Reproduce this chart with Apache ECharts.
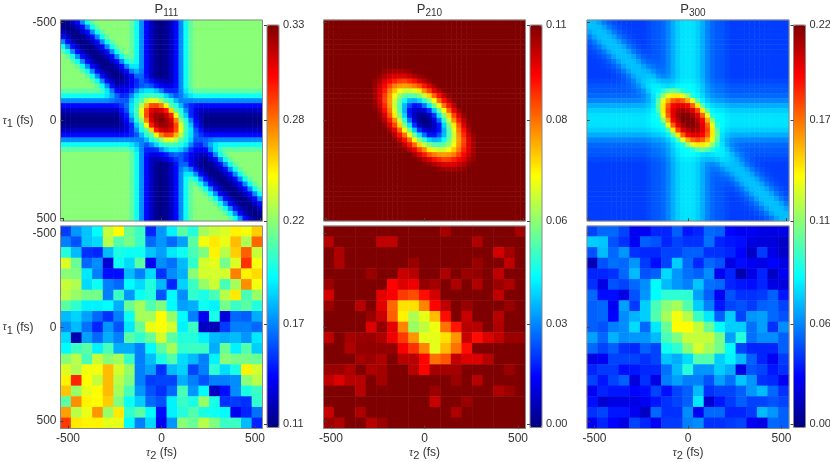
<!DOCTYPE html>
<html>
<head>
<meta charset="UTF-8">
<title></title>
<style>
	html, body { margin: 0; padding: 0; background: #fff; }
	#main { width: 830px; height: 462px; }
</style>
</head>
<body>
<div id="main"></div>
<script src="https://cdn.jsdelivr.net/npm/echarts@6/dist/echarts.min.js"></script>
<script>
// all populations are in units of 0.001
var p111Top = [
[111,114,124,139,168,195,213,222,222,222,222,222,222,222,213,195,168,139,124,114,111,114,124,139,168,195,213,222,222,222,222,222,222,222,222,222,222,222,222,222,222],
[114,111,114,124,139,168,195,213,222,222,222,222,222,222,213,195,168,139,124,114,111,114,124,139,168,195,213,222,222,222,222,222,222,222,222,222,222,222,222,222,222],
[124,114,111,114,124,139,168,195,213,222,222,222,222,222,213,195,168,139,124,114,111,114,124,139,168,195,213,222,222,222,222,222,222,222,222,222,222,222,222,222,222],
[139,124,114,111,114,124,139,168,195,213,222,222,222,222,213,195,168,139,124,114,111,114,124,139,168,195,213,222,222,222,222,222,222,222,222,222,222,222,222,222,222],
[168,139,124,114,111,114,124,139,168,195,213,222,222,222,213,195,168,139,124,114,111,114,124,139,168,195,213,222,222,222,222,222,222,222,222,222,222,222,222,222,222],
[195,168,139,124,114,111,114,124,139,168,195,213,222,222,213,195,168,139,124,114,111,114,124,139,168,195,213,222,222,222,222,222,222,222,222,222,222,222,222,222,222],
[213,195,168,139,124,114,111,114,124,139,168,195,213,222,213,195,168,139,124,114,111,114,124,139,168,195,213,222,222,222,222,222,222,222,222,222,222,222,222,222,222],
[222,213,195,168,139,124,114,111,114,124,139,168,195,213,213,195,168,139,124,114,111,114,124,139,168,195,213,222,222,222,222,222,222,222,222,222,222,222,222,222,222],
[222,222,213,195,168,139,124,114,111,114,124,139,168,195,205,195,168,139,124,114,111,114,124,139,168,195,213,222,222,222,222,222,222,222,222,222,222,222,222,222,222],
[222,222,222,213,195,168,139,124,114,111,114,124,139,168,188,188,168,139,124,114,111,114,124,139,168,195,213,222,222,222,222,222,222,222,222,222,222,222,222,222,222],
[222,222,222,222,213,195,168,139,124,114,111,114,124,139,164,175,164,139,124,114,111,114,124,139,168,195,213,222,222,222,222,222,222,222,222,222,222,222,222,222,222],
[222,222,222,222,222,213,195,168,139,124,114,111,114,124,137,159,159,141,124,114,111,114,124,139,168,195,213,222,222,222,222,222,222,222,222,222,222,222,222,222,222],
[222,222,222,222,222,222,213,195,168,139,124,114,119,125,134,145,157,149,140,129,124,121,124,139,168,195,213,222,222,222,222,222,222,222,222,222,222,222,222,222,222],
[222,222,222,222,222,222,222,213,195,168,139,124,125,129,138,148,156,161,155,143,138,131,133,141,168,195,213,222,222,222,222,222,222,222,222,222,222,222,222,222,222],
[213,213,213,213,213,213,213,213,205,188,164,137,134,138,147,167,182,188,188,180,166,147,145,146,166,188,205,213,213,213,213,213,213,213,213,213,213,213,213,213,213],
[195,195,195,195,195,195,195,195,195,188,175,159,145,148,167,188,200,205,208,205,200,184,168,156,165,178,188,195,195,195,195,195,195,195,195,195,195,195,195,195,195],
[168,168,168,168,168,168,168,168,168,168,164,159,157,156,182,200,211,232,243,241,224,208,199,178,165,166,166,168,168,168,168,168,168,168,168,168,168,168,168,168,168],
[139,139,139,139,139,139,139,139,139,139,139,141,149,161,187,205,232,264,286,288,275,249,212,201,178,156,146,141,139,139,139,139,139,139,139,139,139,139,139,139,139],
[124,124,124,124,124,124,124,124,124,124,124,124,140,155,188,208,243,286,308,315,310,297,257,212,199,168,146,133,124,124,124,124,124,124,124,124,124,124,124,124,124],
[114,114,114,114,114,114,114,114,114,114,114,114,129,143,180,205,241,288,315,323,325,316,297,248,206,182,146,130,121,114,114,114,114,114,114,114,114,114,114,114,114],
[111,111,111,111,111,111,111,111,111,111,111,111,124,138,166,200,224,275,310,324,330,324,310,275,224,200,166,138,124,111,111,111,111,111,111,111,111,111,111,111,111],
[114,114,114,114,114,114,114,114,114,114,114,114,121,130,146,182,206,248,297,316,325,323,315,288,241,205,180,143,129,114,114,114,114,114,114,114,114,114,114,114,114],
[124,124,124,124,124,124,124,124,124,124,124,124,124,133,146,168,199,212,257,297,310,315,308,286,243,208,188,155,140,124,124,124,124,124,124,124,124,124,124,124,124],
[139,139,139,139,139,139,139,139,139,139,139,139,139,141,146,156,178,201,212,249,275,288,286,264,232,205,187,161,149,141,139,139,139,139,139,139,139,139,139,139,139],
[168,168,168,168,168,168,168,168,168,168,168,168,168,168,166,166,165,178,199,208,224,241,243,232,211,200,182,156,157,159,164,168,168,168,168,168,168,168,168,168,168],
[195,195,195,195,195,195,195,195,195,195,195,195,195,195,188,178,165,156,168,184,200,205,208,205,200,188,167,148,145,159,175,188,195,195,195,195,195,195,195,195,195],
[213,213,213,213,213,213,213,213,213,213,213,213,213,213,205,188,166,146,145,147,166,180,188,188,182,167,147,138,134,137,164,188,205,213,213,213,213,213,213,213,213],
[222,222,222,222,222,222,222,222,222,222,222,222,222,222,213,195,168,141,133,131,138,143,155,161,156,148,138,129,125,124,139,168,195,213,222,222,222,222,222,222,222],
[222,222,222,222,222,222,222,222,222,222,222,222,222,222,213,195,168,139,124,121,124,129,140,149,157,145,134,125,119,114,124,139,168,195,213,222,222,222,222,222,222],
[222,222,222,222,222,222,222,222,222,222,222,222,222,222,213,195,168,139,124,114,111,114,124,141,159,159,137,124,114,111,114,124,139,168,195,213,222,222,222,222,222],
[222,222,222,222,222,222,222,222,222,222,222,222,222,222,213,195,168,139,124,114,111,114,124,139,164,175,164,139,124,114,111,114,124,139,168,195,213,222,222,222,222],
[222,222,222,222,222,222,222,222,222,222,222,222,222,222,213,195,168,139,124,114,111,114,124,139,168,188,188,168,139,124,114,111,114,124,139,168,195,213,222,222,222],
[222,222,222,222,222,222,222,222,222,222,222,222,222,222,213,195,168,139,124,114,111,114,124,139,168,195,205,195,168,139,124,114,111,114,124,139,168,195,213,222,222],
[222,222,222,222,222,222,222,222,222,222,222,222,222,222,213,195,168,139,124,114,111,114,124,139,168,195,213,213,195,168,139,124,114,111,114,124,139,168,195,213,222],
[222,222,222,222,222,222,222,222,222,222,222,222,222,222,213,195,168,139,124,114,111,114,124,139,168,195,213,222,213,195,168,139,124,114,111,114,124,139,168,195,213],
[222,222,222,222,222,222,222,222,222,222,222,222,222,222,213,195,168,139,124,114,111,114,124,139,168,195,213,222,222,213,195,168,139,124,114,111,114,124,139,168,195],
[222,222,222,222,222,222,222,222,222,222,222,222,222,222,213,195,168,139,124,114,111,114,124,139,168,195,213,222,222,222,213,195,168,139,124,114,111,114,124,139,168],
[222,222,222,222,222,222,222,222,222,222,222,222,222,222,213,195,168,139,124,114,111,114,124,139,168,195,213,222,222,222,222,213,195,168,139,124,114,111,114,124,139],
[222,222,222,222,222,222,222,222,222,222,222,222,222,222,213,195,168,139,124,114,111,114,124,139,168,195,213,222,222,222,222,222,213,195,168,139,124,114,111,114,124],
[222,222,222,222,222,222,222,222,222,222,222,222,222,222,213,195,168,139,124,114,111,114,124,139,168,195,213,222,222,222,222,222,222,213,195,168,139,124,114,111,114],
[222,222,222,222,222,222,222,222,222,222,222,222,222,222,213,195,168,139,124,114,111,114,124,139,168,195,213,222,222,222,222,222,222,222,213,195,168,139,124,114,111]
];
var p210Top = [
[110,110,110,110,110,110,110,110,110,110,110,110,110,110,110,110,110,110,110,110,110,110,110,110,110,110,110,110,110,110,110,110,110,110,110,110,110,110,110,110,110],
[110,110,110,110,110,110,110,110,110,110,110,110,110,110,110,110,110,110,110,110,110,110,110,110,110,110,110,110,110,110,110,110,110,110,110,110,110,110,110,110,110],
[110,110,110,110,110,110,110,110,110,110,110,110,110,110,110,110,110,110,110,110,110,110,110,110,110,110,110,110,110,110,110,110,110,110,110,110,110,110,110,110,110],
[110,110,110,110,110,110,110,110,110,110,110,110,110,110,110,110,110,110,110,110,110,110,110,110,110,110,110,110,110,110,110,110,110,110,110,110,110,110,110,110,110],
[110,110,110,110,110,110,110,110,110,110,110,110,110,110,110,110,110,110,110,110,110,110,110,110,110,110,110,110,110,110,110,110,110,110,110,110,110,110,110,110,110],
[110,110,110,110,110,110,110,110,110,110,110,110,110,110,110,110,110,110,110,110,110,110,110,110,110,110,110,110,110,110,110,110,110,110,110,110,110,110,110,110,110],
[110,110,110,110,110,110,110,110,110,110,110,110,110,110,110,110,110,110,110,110,110,110,110,110,110,110,110,110,110,110,110,110,110,110,110,110,110,110,110,110,110],
[110,110,110,110,110,110,110,110,110,110,110,110,110,110,110,110,110,110,110,110,110,110,110,110,110,110,110,110,110,110,110,110,110,110,110,110,110,110,110,110,110],
[110,110,110,110,110,110,110,110,110,110,110,110,110,110,110,110,110,110,110,110,110,110,110,110,110,110,110,110,110,110,110,110,110,110,110,110,110,110,110,110,110],
[110,110,110,110,110,110,110,110,110,110,110,110,110,110,110,110,110,110,110,110,110,110,110,110,110,110,110,110,110,110,110,110,110,110,110,110,110,110,110,110,110],
[110,110,110,110,110,110,110,110,110,110,110,110,108,107,106,106,107,108,110,110,110,110,110,110,110,110,110,110,110,110,110,110,110,110,110,110,110,110,110,110,110],
[110,110,110,110,110,110,110,110,110,110,110,108,105,102,100,100,100,102,105,108,109,110,110,110,110,110,110,110,110,110,110,110,110,110,110,110,110,110,110,110,110],
[110,110,110,110,110,110,110,110,110,110,108,105,100,96,93,90,89,92,95,100,104,108,110,110,110,110,110,110,110,110,110,110,110,110,110,110,110,110,110,110,110],
[110,110,110,110,110,110,110,110,110,110,107,102,96,89,83,80,79,80,83,87,94,100,106,110,110,110,110,110,110,110,110,110,110,110,110,110,110,110,110,110,110],
[110,110,110,110,110,110,110,110,110,110,106,100,93,83,75,68,64,63,66,71,81,89,98,104,109,110,110,110,110,110,110,110,110,110,110,110,110,110,110,110,110],
[110,110,110,110,110,110,110,110,110,110,106,100,90,80,68,58,52,50,50,55,63,73,85,95,103,108,110,110,110,110,110,110,110,110,110,110,110,110,110,110,110],
[110,110,110,110,110,110,110,110,110,110,107,100,89,79,64,52,42,34,33,37,46,56,69,84,95,103,109,110,110,110,110,110,110,110,110,110,110,110,110,110,110],
[110,110,110,110,110,110,110,110,110,110,108,102,92,80,63,50,34,22,15,16,26,39,53,67,84,95,104,110,110,110,110,110,110,110,110,110,110,110,110,110,110],
[110,110,110,110,110,110,110,110,110,110,110,105,95,83,66,50,33,15,9,7,10,19,36,53,69,85,98,106,110,110,110,110,110,110,110,110,110,110,110,110,110],
[110,110,110,110,110,110,110,110,110,110,110,108,100,87,71,55,37,16,7,2,2,7,19,39,56,73,89,100,108,110,110,110,110,110,110,110,110,110,110,110,110],
[110,110,110,110,110,110,110,110,110,110,110,109,104,94,81,63,46,26,10,2,0,2,10,26,46,63,81,94,104,109,110,110,110,110,110,110,110,110,110,110,110],
[110,110,110,110,110,110,110,110,110,110,110,110,108,100,89,73,56,39,19,7,2,2,7,16,37,55,71,87,100,108,110,110,110,110,110,110,110,110,110,110,110],
[110,110,110,110,110,110,110,110,110,110,110,110,110,106,98,85,69,53,36,19,10,7,9,15,33,50,66,83,95,105,110,110,110,110,110,110,110,110,110,110,110],
[110,110,110,110,110,110,110,110,110,110,110,110,110,110,104,95,84,67,53,39,26,16,15,22,34,50,63,80,92,102,108,110,110,110,110,110,110,110,110,110,110],
[110,110,110,110,110,110,110,110,110,110,110,110,110,110,109,103,95,84,69,56,46,37,33,34,42,52,64,79,89,100,107,110,110,110,110,110,110,110,110,110,110],
[110,110,110,110,110,110,110,110,110,110,110,110,110,110,110,108,103,95,85,73,63,55,50,50,52,58,68,80,90,100,106,110,110,110,110,110,110,110,110,110,110],
[110,110,110,110,110,110,110,110,110,110,110,110,110,110,110,110,109,104,98,89,81,71,66,63,64,68,75,83,93,100,106,110,110,110,110,110,110,110,110,110,110],
[110,110,110,110,110,110,110,110,110,110,110,110,110,110,110,110,110,110,106,100,94,87,83,80,79,80,83,89,96,102,107,110,110,110,110,110,110,110,110,110,110],
[110,110,110,110,110,110,110,110,110,110,110,110,110,110,110,110,110,110,110,108,104,100,95,92,89,90,93,96,100,105,108,110,110,110,110,110,110,110,110,110,110],
[110,110,110,110,110,110,110,110,110,110,110,110,110,110,110,110,110,110,110,110,109,108,105,102,100,100,100,102,105,108,110,110,110,110,110,110,110,110,110,110,110],
[110,110,110,110,110,110,110,110,110,110,110,110,110,110,110,110,110,110,110,110,110,110,110,108,107,106,106,107,108,110,110,110,110,110,110,110,110,110,110,110,110],
[110,110,110,110,110,110,110,110,110,110,110,110,110,110,110,110,110,110,110,110,110,110,110,110,110,110,110,110,110,110,110,110,110,110,110,110,110,110,110,110,110],
[110,110,110,110,110,110,110,110,110,110,110,110,110,110,110,110,110,110,110,110,110,110,110,110,110,110,110,110,110,110,110,110,110,110,110,110,110,110,110,110,110],
[110,110,110,110,110,110,110,110,110,110,110,110,110,110,110,110,110,110,110,110,110,110,110,110,110,110,110,110,110,110,110,110,110,110,110,110,110,110,110,110,110],
[110,110,110,110,110,110,110,110,110,110,110,110,110,110,110,110,110,110,110,110,110,110,110,110,110,110,110,110,110,110,110,110,110,110,110,110,110,110,110,110,110],
[110,110,110,110,110,110,110,110,110,110,110,110,110,110,110,110,110,110,110,110,110,110,110,110,110,110,110,110,110,110,110,110,110,110,110,110,110,110,110,110,110],
[110,110,110,110,110,110,110,110,110,110,110,110,110,110,110,110,110,110,110,110,110,110,110,110,110,110,110,110,110,110,110,110,110,110,110,110,110,110,110,110,110],
[110,110,110,110,110,110,110,110,110,110,110,110,110,110,110,110,110,110,110,110,110,110,110,110,110,110,110,110,110,110,110,110,110,110,110,110,110,110,110,110,110],
[110,110,110,110,110,110,110,110,110,110,110,110,110,110,110,110,110,110,110,110,110,110,110,110,110,110,110,110,110,110,110,110,110,110,110,110,110,110,110,110,110],
[110,110,110,110,110,110,110,110,110,110,110,110,110,110,110,110,110,110,110,110,110,110,110,110,110,110,110,110,110,110,110,110,110,110,110,110,110,110,110,110,110],
[110,110,110,110,110,110,110,110,110,110,110,110,110,110,110,110,110,110,110,110,110,110,110,110,110,110,110,110,110,110,110,110,110,110,110,110,110,110,110,110,110]
];
var p300Top = [
[69,68,63,54,48,44,42,41,41,41,41,41,43,46,47,50,56,65,72,76,77,76,72,65,56,50,47,46,43,41,41,41,41,41,41,41,41,41,41,41,41],
[68,69,68,63,54,48,44,42,41,41,41,41,43,46,47,50,56,65,72,76,77,76,72,65,56,50,47,46,43,41,41,41,41,41,41,41,41,41,41,41,41],
[63,68,69,68,63,54,48,44,42,41,41,41,43,46,47,50,56,65,72,76,77,76,72,65,56,50,47,46,43,41,41,41,41,41,41,41,41,41,41,41,41],
[54,63,68,69,68,63,54,48,44,42,41,41,43,46,47,50,56,65,72,76,77,76,72,65,56,50,47,46,43,41,41,41,41,41,41,41,41,41,41,41,41],
[48,54,63,68,69,68,63,54,48,44,42,41,43,46,47,50,56,65,72,76,77,76,72,65,56,50,47,46,43,41,41,41,41,41,41,41,41,41,41,41,41],
[44,48,54,63,68,69,68,63,54,48,44,42,43,46,47,50,56,65,72,76,77,76,72,65,56,50,47,46,43,41,41,41,41,41,41,41,41,41,41,41,41],
[42,44,48,54,63,68,69,68,63,54,48,44,44,46,47,50,56,65,72,76,77,76,72,65,56,50,47,46,43,41,41,41,41,41,41,41,41,41,41,41,41],
[41,42,44,48,54,63,68,69,68,63,54,48,46,47,47,50,56,65,72,76,77,76,72,65,56,50,47,46,43,41,41,41,41,41,41,41,41,41,41,41,41],
[41,41,42,44,48,54,63,68,69,68,63,54,50,49,48,50,56,65,72,76,77,76,72,65,56,50,47,46,43,41,41,41,41,41,41,41,41,41,41,41,41],
[41,41,41,42,44,48,54,63,68,69,68,63,56,53,50,51,56,65,72,76,77,76,72,65,56,50,47,46,43,41,41,41,41,41,41,41,41,41,41,41,41],
[41,41,41,41,42,44,48,54,63,68,69,68,65,59,54,53,57,65,72,76,77,76,72,65,56,50,47,46,43,41,41,41,41,41,41,41,41,41,41,41,41],
[41,41,41,41,41,42,44,48,54,63,68,69,70,68,60,57,59,66,72,76,77,76,72,65,56,50,47,46,43,41,41,41,41,41,41,41,41,41,41,41,41],
[43,43,43,43,43,43,44,46,50,56,65,70,73,75,71,68,68,70,75,78,79,78,74,67,58,52,49,48,45,43,43,43,43,43,43,43,43,43,43,43,43],
[46,46,46,46,46,46,46,47,49,53,59,68,75,79,79,77,75,77,80,82,82,81,77,70,61,55,52,51,48,46,46,46,46,46,46,46,46,46,46,46,46],
[47,47,47,47,47,47,47,47,48,50,54,60,71,79,81,90,100,105,100,90,84,82,78,71,62,56,53,52,49,47,47,47,47,47,47,47,47,47,47,47,47],
[50,50,50,50,50,50,50,50,50,51,53,57,65,77,90,114,133,142,142,133,114,90,81,74,65,59,56,55,52,50,50,50,50,50,50,50,50,50,50,50,50],
[56,56,56,56,56,56,56,56,56,56,57,59,65,75,100,133,155,172,178,172,155,133,100,80,71,65,62,61,58,56,56,56,56,56,56,56,56,56,56,56,56],
[65,65,65,65,65,65,65,65,65,65,65,66,70,77,105,142,172,192,198,198,192,172,142,105,80,74,71,70,67,65,65,65,65,65,65,65,65,65,65,65,65],
[72,72,72,72,72,72,72,72,72,72,72,72,75,80,100,142,178,198,208,212,208,198,178,142,100,81,78,77,74,72,72,72,72,72,72,72,72,72,72,72,72],
[76,76,76,76,76,76,76,76,76,76,76,76,78,82,90,133,172,198,212,219,219,212,198,172,133,90,82,81,78,76,76,76,76,76,76,76,76,76,76,76,76],
[77,77,77,77,77,77,77,77,77,77,77,77,79,82,84,114,155,192,208,219,220,219,208,192,155,114,84,82,79,77,77,77,77,77,77,77,77,77,77,77,77],
[76,76,76,76,76,76,76,76,76,76,76,76,78,81,82,90,133,172,198,212,219,219,212,198,172,133,90,82,78,76,76,76,76,76,76,76,76,76,76,76,76],
[72,72,72,72,72,72,72,72,72,72,72,72,74,77,78,81,100,142,178,198,208,212,208,198,178,142,100,80,75,72,72,72,72,72,72,72,72,72,72,72,72],
[65,65,65,65,65,65,65,65,65,65,65,65,67,70,71,74,80,105,142,172,192,198,198,192,172,142,105,77,70,66,65,65,65,65,65,65,65,65,65,65,65],
[56,56,56,56,56,56,56,56,56,56,56,56,58,61,62,65,71,80,100,133,155,172,178,172,155,133,100,75,65,59,57,56,56,56,56,56,56,56,56,56,56],
[50,50,50,50,50,50,50,50,50,50,50,50,52,55,56,59,65,74,81,90,114,133,142,142,133,114,90,77,65,57,53,51,50,50,50,50,50,50,50,50,50],
[47,47,47,47,47,47,47,47,47,47,47,47,49,52,53,56,62,71,78,82,84,90,100,105,100,90,81,79,71,60,54,50,48,47,47,47,47,47,47,47,47],
[46,46,46,46,46,46,46,46,46,46,46,46,48,51,52,55,61,70,77,81,82,82,80,77,75,77,79,79,75,68,59,53,49,47,46,46,46,46,46,46,46],
[43,43,43,43,43,43,43,43,43,43,43,43,45,48,49,52,58,67,74,78,79,78,75,70,68,68,71,75,73,70,65,56,50,46,44,43,43,43,43,43,43],
[41,41,41,41,41,41,41,41,41,41,41,41,43,46,47,50,56,65,72,76,77,76,72,66,59,57,60,68,70,69,68,63,54,48,44,42,41,41,41,41,41],
[41,41,41,41,41,41,41,41,41,41,41,41,43,46,47,50,56,65,72,76,77,76,72,65,57,53,54,59,65,68,69,68,63,54,48,44,42,41,41,41,41],
[41,41,41,41,41,41,41,41,41,41,41,41,43,46,47,50,56,65,72,76,77,76,72,65,56,51,50,53,56,63,68,69,68,63,54,48,44,42,41,41,41],
[41,41,41,41,41,41,41,41,41,41,41,41,43,46,47,50,56,65,72,76,77,76,72,65,56,50,48,49,50,54,63,68,69,68,63,54,48,44,42,41,41],
[41,41,41,41,41,41,41,41,41,41,41,41,43,46,47,50,56,65,72,76,77,76,72,65,56,50,47,47,46,48,54,63,68,69,68,63,54,48,44,42,41],
[41,41,41,41,41,41,41,41,41,41,41,41,43,46,47,50,56,65,72,76,77,76,72,65,56,50,47,46,44,44,48,54,63,68,69,68,63,54,48,44,42],
[41,41,41,41,41,41,41,41,41,41,41,41,43,46,47,50,56,65,72,76,77,76,72,65,56,50,47,46,43,42,44,48,54,63,68,69,68,63,54,48,44],
[41,41,41,41,41,41,41,41,41,41,41,41,43,46,47,50,56,65,72,76,77,76,72,65,56,50,47,46,43,41,42,44,48,54,63,68,69,68,63,54,48],
[41,41,41,41,41,41,41,41,41,41,41,41,43,46,47,50,56,65,72,76,77,76,72,65,56,50,47,46,43,41,41,42,44,48,54,63,68,69,68,63,54],
[41,41,41,41,41,41,41,41,41,41,41,41,43,46,47,50,56,65,72,76,77,76,72,65,56,50,47,46,43,41,41,41,42,44,48,54,63,68,69,68,63],
[41,41,41,41,41,41,41,41,41,41,41,41,43,46,47,50,56,65,72,76,77,76,72,65,56,50,47,46,43,41,41,41,41,42,44,48,54,63,68,69,68],
[41,41,41,41,41,41,41,41,41,41,41,41,43,46,47,50,56,65,72,76,77,76,72,65,56,50,47,46,43,41,41,41,41,41,42,44,48,54,63,68,69]
];
var p111Bottom = [
[150,170,180,192,235,248,215,205,145,170,190,212,200,228,235,240,250,245,258],
[165,155,180,185,232,210,218,205,160,170,160,172,212,245,252,243,262,230,280],
[200,178,148,145,178,198,195,195,180,172,188,195,208,220,250,232,258,282,235],
[240,215,160,168,128,195,185,212,135,168,162,178,203,238,242,218,240,292,245],
[222,220,188,165,140,140,178,165,185,148,168,175,222,238,238,238,275,250,255],
[235,230,185,195,165,160,192,185,200,178,145,183,205,225,236,208,228,272,245],
[232,225,218,218,165,205,170,195,200,155,192,168,203,198,208,232,252,208,225],
[212,203,190,190,193,175,215,228,210,220,192,172,175,195,190,218,205,212,200],
[178,183,172,160,148,165,195,228,228,248,225,192,165,135,198,130,160,158,175],
[168,178,162,145,170,155,188,215,243,247,238,190,205,125,122,150,165,165,160],
[185,120,172,160,175,165,212,203,215,238,212,200,200,190,178,175,178,170,188],
[192,205,212,190,208,175,175,165,192,212,228,203,205,205,175,215,190,210,182],
[222,232,208,235,222,228,205,165,178,198,210,185,178,165,190,222,218,218,215],
[240,230,245,245,262,238,225,165,172,148,178,183,152,165,202,185,198,250,238],
[250,295,248,235,262,232,220,165,150,152,152,175,165,155,165,165,168,222,232],
[260,225,242,248,262,228,208,170,155,148,160,208,170,192,125,140,168,198,205],
[212,272,250,248,258,220,195,182,160,155,190,205,198,225,198,148,150,148,203],
[268,232,243,270,225,252,203,212,192,140,190,200,210,198,195,192,135,145,162],
[290,252,250,250,242,242,192,165,185,135,170,222,215,232,220,205,205,178,145]
];
var p210Bottom = [
[110,110,110,110,110,110,110,110,110,110,110,106,110,110,110,110,110,110,106],
[104,110,110,110,110,103,103,110,110,110,110,110,110,110,105,110,110,110,110],
[110,105,110,110,110,110,110,110,110,110,110,110,110,110,110,110,101,106,110],
[110,105,110,110,110,110,110,110,107,110,110,110,110,110,107,110,110,103,110],
[110,110,110,110,107,110,110,102,104,110,110,105,110,107,108,110,103,110,110],
[107,110,110,110,110,110,96,100,98,108,106,110,105,110,105,110,107,105,110],
[101,110,110,110,110,99,97,90,88,95,101,110,110,110,110,110,103,110,110],
[107,110,110,104,110,99,85,72,72,82,96,103,110,107,110,110,110,107,110],
[110,110,110,110,107,102,86,70,60,66,76,95,110,102,110,110,104,110,110],
[110,110,110,110,100,108,99,82,58,62,67,84,94,104,104,110,105,110,110],
[103,110,106,107,107,105,98,90,80,66,66,72,80,102,95,100,103,107,107],
[110,110,105,108,108,108,108,97,91,82,66,76,84,95,110,110,110,110,110],
[110,110,110,106,107,105,110,104,104,96,84,87,103,100,100,104,110,110,110],
[107,107,105,110,105,106,110,110,104,96,106,106,106,110,110,110,110,107,110],
[103,100,104,104,110,106,110,110,110,110,110,110,107,110,104,110,110,110,110],
[110,110,110,104,110,110,110,110,110,110,107,110,110,110,110,110,105,107,110],
[110,110,110,110,110,110,110,110,110,110,102,110,110,107,110,110,110,110,110],
[102,110,110,105,110,110,110,110,110,110,110,110,105,110,110,110,110,110,110],
[107,105,110,110,104,107,110,110,110,110,110,110,110,110,110,110,110,110,110]
];
var p300Bottom = [
[42,50,50,42,25,25,35,35,48,32,35,50,48,28,25,25,22,22,22],
[72,70,45,38,25,48,45,35,42,38,38,52,35,32,30,22,20,20,16],
[45,68,50,60,38,36,36,42,42,48,48,38,38,35,28,15,40,22,16],
[12,45,52,50,60,40,30,42,72,50,36,50,45,22,30,25,22,28,22],
[35,35,38,50,68,45,48,75,60,52,48,58,25,35,10,22,35,15,25],
[38,22,45,42,50,58,82,68,60,55,70,52,50,35,32,30,35,22,20],
[50,30,30,22,45,60,82,92,92,92,62,48,25,45,38,38,40,48,32],
[48,50,25,62,40,72,98,112,118,100,72,55,32,42,45,40,48,50,42],
[48,50,28,58,66,72,100,118,135,122,95,78,48,72,42,60,62,50,45],
[48,45,55,58,75,50,78,105,138,138,125,105,82,72,72,52,62,38,58],
[62,50,66,58,60,60,68,98,110,125,125,125,108,62,90,52,58,58,48],
[50,42,48,38,36,48,42,85,92,112,128,118,108,82,42,35,35,35,48],
[22,25,42,42,42,38,42,70,65,75,100,100,72,80,68,48,35,25,40],
[35,40,40,30,32,36,36,52,68,90,60,60,72,65,22,45,42,32,38],
[42,32,42,48,20,38,22,55,62,55,55,45,62,52,70,60,38,36,25],
[25,35,32,32,28,30,42,30,42,48,68,38,42,42,48,60,68,50,38],
[30,18,22,22,22,25,32,38,42,48,78,18,32,40,48,42,42,45,42],
[38,42,32,32,25,15,50,38,38,58,25,50,50,35,35,40,68,60,48],
[25,35,28,22,42,35,25,40,40,55,58,38,38,40,42,25,22,50,48]
];
var p111Ticks = ['0.11', '0.17', '0.22', '0.28', '0.33'];
var p210Ticks = ['0.00', '0.03', '0.06', '0.08', '0.11'];
var p300Ticks = ['0.00', '0.06', '0.11', '0.17', '0.22'];
var tauTicks = [-500, 0, 500];

var jet = ['#00007f', '#0000ff', '#007fff', '#00ffff', '#7fff7f', '#ffff00', '#ff7f00', '#ff0000', '#7f0000'];
var fontName = '"Liberation Sans", Arial, sans-serif';
var textColor = '#333';
var frameColor = '#8a8a8a';
// where the colour bar ticks sit, as a share of the bar height
var barTickAt = [0.009, 0.257, 0.513, 0.763, 1];

var columns = [
	{ left: 60.5, barLeft: 267, sub: '111', top: p111Top, bottom: p111Bottom, ticks: p111Ticks, min: 110, max: 330 },
	{ left: 323.5, barLeft: 530, sub: '210', top: p210Top, bottom: p210Bottom, ticks: p210Ticks, min: 0, max: 110 },
	{ left: 587, barLeft: 793.5, sub: '300', top: p300Top, bottom: p300Bottom, ticks: p300Ticks, min: 0, max: 220 }
];

var richTau = {
	t: { fontFamily: '"Liberation Serif", serif', fontStyle: 'italic', fontSize: 12, color: textColor },
	s: { fontFamily: fontName, fontSize: 11, color: textColor, padding: [7, 0, 0, 0] },
	u: { fontFamily: fontName, fontSize: 12, color: textColor }
};

var option = {
	animation: false,
	backgroundColor: '#fff',
	title: [],
	grid: [],
	xAxis: [],
	yAxis: [],
	visualMap: [],
	series: []
};

function addPanel(rows, left, top, height, range, col, showX, showY) {
	var g = option.grid.length;
	var cats = rows.map(function(r, i) { return i; });
	var data = [];
	rows.forEach(function(row, i) {
		row.forEach(function(v, j) {
			data.push([j, i, v]);
		});
	});
	option.grid.push({ show: true, z: 5, left: left, top: top, width: 202, height: height, borderColor: frameColor, borderWidth: 1, outerBoundsMode: 'none' });
	var valueAxis = {
		gridIndex: g, type: 'value', min: -range, max: range, z: 6,
		splitLine: { show: false },
		axisLine: { show: false, onZero: false },
		axisTick: { show: true, inside: true, length: 3, customValues: tauTicks, lineStyle: { color: '#444' } }
	};
	option.xAxis.push({ gridIndex: g, type: 'category', data: cats, show: false });
	option.xAxis.push(Object.assign({}, valueAxis, {
		position: 'bottom',
		name: showX ? '{t|τ}{s|2}{u| (fs)}' : '',
		nameLocation: 'middle', nameGap: 15,
		nameTextStyle: { rich: richTau },
		axisLabel: { show: showX, customValues: tauTicks, margin: 4, fontSize: 12, fontFamily: fontName, color: textColor }
	}));
	option.yAxis.push({ gridIndex: g, type: 'category', data: cats, show: false, inverse: true });
	option.yAxis.push(Object.assign({}, valueAxis, {
		position: 'left', inverse: true,
		name: showY ? '{t|τ}{s|1}{u| (fs)}' : '',
		nameLocation: 'middle', nameRotate: 0, nameGap: 27, nameMoveOverlap: false,
		nameTextStyle: { rich: richTau },
		axisLabel: { show: showY, customValues: tauTicks, margin: 4, fontSize: 12, fontFamily: fontName, color: textColor }
	}));
	option.series.push({
		type: 'heatmap', xAxisIndex: 2 * g, yAxisIndex: 2 * g, data: data,
		silent: true, progressive: 0, itemStyle: { borderWidth: 0 }
	});
	return option.series.length - 1;
}

function addBar(col) {
	var g = option.grid.length;
	option.grid.push({ show: true, z: 5, left: col.barLeft, top: 25, width: 12, height: 402.5, borderColor: frameColor, borderWidth: 1, outerBoundsMode: 'none' });
	option.xAxis.push({ gridIndex: g, type: 'value', show: false }, { gridIndex: g, type: 'value', show: false });
	option.yAxis.push({
		gridIndex: g, type: 'value', min: 0, max: 1, position: 'right', z: 6,
		splitLine: { show: false },
		axisLine: { show: false },
		axisTick: { show: true, inside: true, length: 3, customValues: barTickAt, lineStyle: { color: '#444' } },
		axisLabel: {
			customValues: barTickAt, margin: 4, fontSize: 11, fontFamily: fontName, color: textColor,
			formatter: function(v) { return col.ticks[barTickAt.indexOf(v)]; }
		}
	}, { gridIndex: g, type: 'value', show: false });
}

columns.forEach(function(col, c) {
	var a = addPanel(col.top, col.left, 20, 201, 513, col, false, c === 0);
	var b = addPanel(col.bottom, col.left, 226, 202.5, 540, col, true, c === 0);
	addBar(col);
	option.visualMap.push({
		type: 'continuous', seriesIndex: [a, b], min: col.min, max: col.max, calculable: false,
		left: col.barLeft, top: 25, itemWidth: 12, itemHeight: 402.5, padding: 0, text: ['', ''], showLabel: false,
		inRange: { color: jet }, dimension: 2
	});
	option.title.push({
		text: '{p|P}{s|' + col.sub + '}', left: col.left + 101, top: -5, textAlign: 'center',
		textStyle: { fontWeight: 'normal', rich: {
			p: { fontFamily: fontName, fontSize: 13, fontWeight: 'normal', color: textColor },
			s: { fontFamily: fontName, fontSize: 10, fontWeight: 'normal', color: textColor, padding: [8, 0, 0, 0] }
		} }
	});
});

var myChart = echarts.init(document.getElementById('main'), null, { renderer: 'canvas' });
myChart.setOption(option);
</script>
</body>
</html>
